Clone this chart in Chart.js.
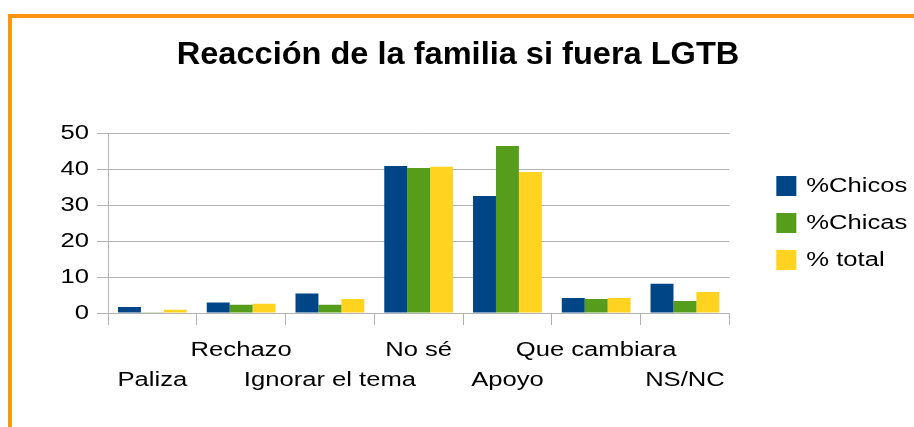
<!DOCTYPE html>
<html><head><meta charset="utf-8">
<script src="https://cdn.jsdelivr.net/npm/chart.js@4/dist/chart.umd.min.js"></script>
<style>
html,body{margin:0;padding:0;background:#fff;}
#wrap{position:absolute;left:0;top:0;width:914px;height:427px;}
#frame{position:absolute;left:8px;top:14px;width:906px;height:413px;border-top:4px solid #ff950e;border-left:4px solid #ff950e;box-sizing:border-box;}
canvas{position:absolute;left:0;top:0;}
</style></head>
<body>
<div id="wrap"><div id="frame"></div><canvas id="c" width="914" height="427"></canvas></div>
<script>
const categories = ['Paliza', 'Rechazo', 'Ignorar el tema', 'No sé', 'Apoyo', 'Que cambiara', 'NS/NC'];
const chicos = [1.7, 2.9, 5.4, 40.8, 32.5, 4.2, 8.1];
const chicas = [0.2, 2.3, 2.3, 40.3, 46.4, 3.9, 3.3];
const total = [0.9, 2.6, 3.9, 40.6, 39.2, 4.2, 5.8];
const yTicks = [0, 10, 20, 30, 40, 50];

const staggered = categories.map((c, i) => i % 2 === 0 ? ['', c] : [c, '']);
const FONT = 'Liberation Sans, Arial, sans-serif';

// The reference text is horizontally widened; reproduce with a horizontal text scale.
const canvas = document.getElementById('c');
const ctx = canvas.getContext('2d');
const stretchFor = (font) => (/bold/.test(font) ? 1.05 : 1.28);
const origMeasure = ctx.measureText.bind(ctx);
ctx.measureText = function (t) {
  const m = origMeasure(t);
  const s = stretchFor(ctx.font);
  return {
    width: m.width * s,
    actualBoundingBoxAscent: m.actualBoundingBoxAscent,
    actualBoundingBoxDescent: m.actualBoundingBoxDescent,
    actualBoundingBoxLeft: m.actualBoundingBoxLeft * s,
    actualBoundingBoxRight: m.actualBoundingBoxRight * s,
    fontBoundingBoxAscent: m.fontBoundingBoxAscent,
    fontBoundingBoxDescent: m.fontBoundingBoxDescent
  };
};
const origFill = ctx.fillText.bind(ctx);
ctx.fillText = function (t, x, y, mw) {
  const s = stretchFor(ctx.font);
  ctx.save();
  ctx.translate(x, y);
  ctx.scale(s, 1);
  if (mw !== undefined) origFill(t, 0, 0, mw / s); else origFill(t, 0, 0);
  ctx.restore();
};

new Chart(ctx, {
  type: 'bar',
  data: {
    labels: staggered,
    datasets: [
      { label: '%Chicos', data: chicos, backgroundColor: '#004586' },
      { label: '%Chicas', data: chicas, backgroundColor: '#579d1c' },
      { label: '% total', data: total, backgroundColor: '#ffd320' }
    ]
  },
  options: {
    responsive: false,
    animation: false,
    layout: { padding: { top: 20, left: 6, right: 4, bottom: 22 } },
    datasets: { bar: { categoryPercentage: 0.775, barPercentage: 1.0 } },
    plugins: {
      title: {
        display: true,
        text: 'Reacción de la familia si fuera LGTB',
        color: '#000',
        font: { family: FONT, size: 31, weight: 'bold' },
        padding: { top: 16.4, bottom: 59.4 }
      },
      legend: {
        position: 'right',
        align: 'center',
        fullSize: false,
        labels: {
          color: '#000',
          font: { family: FONT, size: 20 },
          boxWidth: 20, boxHeight: 20,
          padding: 17
        }
      },
      tooltip: { enabled: false }
    },
    scales: {
      x: {
        grid: { display: true, drawOnChartArea: false, offset: true, color: '#b3b3b3', tickLength: 12, lineWidth: 1 },
        border: { color: '#b3b3b3' },
        ticks: { color: '#000', font: { family: FONT, size: 20, lineHeight: 1.5 }, maxRotation: 0, autoSkip: false, padding: 10 }
      },
      y: {
        min: 0, max: 50,
        afterBuildTicks: (s) => { s.ticks = yTicks.map(v => ({ value: v })); },
        afterFit: (s) => { s.width = 102; },
        grid: { color: '#b3b3b3', tickLength: 11 },
        border: { color: '#b3b3b3' },
        ticks: { color: '#000', font: { family: FONT, size: 20 }, padding: 8 }
      },
      gap: {
        position: 'right',
        display: true,
        grid: { display: false },
        border: { display: false },
        ticks: { display: false },
        afterFit: (s) => { s.width = 30; }
      }
    }
  }
});
</script>
</body></html>
